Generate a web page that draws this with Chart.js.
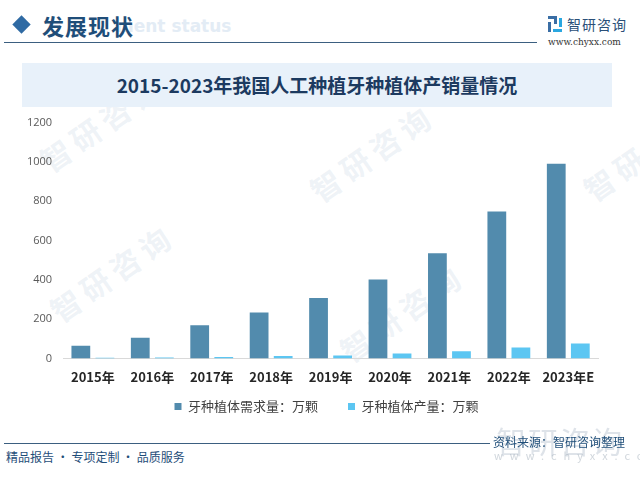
<!DOCTYPE html>
<html>
<head>
<meta charset="utf-8">
<script src="https://cdn.jsdelivr.net/npm/chart.js@4/dist/chart.umd.min.js"></script>
<style>
  body { margin: 0; background: #fff; }
  .page { position: relative; width: 640px; height: 478px; overflow: hidden; background: #fff; font-family: "Noto Sans CJK SC", "Noto Sans", sans-serif; }
  .diamond { position: absolute; left: 15px; top: 18px; width: 13px; height: 13px; background: #2f6aa3; transform: rotate(45deg); }
  .head { position: absolute; left: 42px; top: 9px; font-size: 22px; font-weight: bold; color: #1f4e79; letter-spacing: 1px; }
  .head-en { position: absolute; left: 116px; top: 16px; font-size: 17px; font-weight: bold; color: #e3ecf5; font-family: "DejaVu Sans", sans-serif; }
  .head-line { position: absolute; left: 4px; top: 42px; width: 533px; height: 1px; background: #3b5f80; }
  .logo-icon { position: absolute; left: 548px; top: 16px; width: 14px; height: 16px; }
  .logo-icon i { position: absolute; display: block; }
  .logo-name { position: absolute; left: 567px; top: 14px; font-size: 14px; color: #2a4f78; letter-spacing: 1px; }
  .logo-url { position: absolute; left: 548px; top: 37px; font-size: 9px; color: #333; font-family: "DejaVu Serif", serif; }
  .title-box { position: absolute; left: 22px; top: 63px; width: 590px; height: 44px; background: #e8f1fa; }
  .title { position: absolute; left: 0; top: 63px; width: 634px; text-align: center; line-height: 44px; font-size: 19px; font-weight: bold; color: #1c3a60; }
  .wm { position: absolute; color: rgba(200, 214, 228, 0.3); font-size: 30px; font-weight: bold; transform: rotate(-35deg); white-space: nowrap; letter-spacing: 6px; }
  #chartWrap { position: absolute; left: 0; top: 105px; width: 640px; height: 318px; }
  .foot-line { position: absolute; left: 4px; top: 443px; width: 486px; height: 1px; background: #3b5f80; }
  .foot-left { position: absolute; left: 6px; top: 448px; font-size: 12px; color: #1f4e79; }
  .foot-wm { position: absolute; left: 496px; top: 418px; font-size: 30px; color: rgba(190, 200, 212, 0.5); letter-spacing: 2px; }
  .foot-url { position: absolute; left: 494px; top: 447px; font-size: 11px; color: rgba(170, 180, 192, 0.55); letter-spacing: 7px; }
  .source { position: absolute; left: 493px; top: 433px; font-size: 12px; color: #1f4e79; }
</style>
</head>
<body>
<div class="page">
  <div class="wm" style="left:300px;top:130px;">智研咨询</div>
  <div class="wm" style="left:40px;top:250px;">智研咨询</div>
  <div class="wm" style="left:330px;top:290px;">智研咨询</div>
  <div class="wm" style="left:30px;top:100px;">智研咨询</div>
  <div class="wm" style="left:580px;top:150px;">智研</div>

  <div class="diamond"></div>
  <div class="head-en">ment status</div>
  <div class="head">发展现状</div>
  <div class="head-line"></div>
  <div class="logo-icon">
    <i style="left:0;top:0;width:9px;height:3px;background:#3a6ea5"></i>
    <i style="left:6px;top:0;width:3px;height:8px;background:#3a6ea5"></i>
    <i style="left:0;top:6px;width:3px;height:10px;background:#3a6ea5"></i>
    <i style="left:11px;top:2px;width:3px;height:9px;background:#2aa7e0"></i>
    <i style="left:5px;top:13px;width:9px;height:3px;background:#2aa7e0"></i>
  </div>
  <div class="logo-name">智研咨询</div>
  <div class="logo-url">www.chyxx.com</div>

  <div class="title-box"></div>
  <div class="title">2015-2023年我国人工种植牙种植体产销量情况</div>

  <div id="chartWrap"><canvas id="myChart"></canvas></div>

  <div class="foot-line"></div>
  <div class="foot-wm">智研咨询</div>
  <div class="foot-url">www.chyxx.com</div>
  <div class="source">资料来源：智研咨询整理</div>
  <div class="foot-left">精品报告 · 专项定制 · 品质服务</div>
</div>

<script>
const years = ["2015年", "2016年", "2017年", "2018年", "2019年", "2020年", "2021年", "2022年", "2023年E"];
const demandLabel = "牙种植体需求量：万颗";
const outputLabel = "牙种植体产量：万颗";
const demandValues = [65, 105, 169, 234, 307, 401, 535, 748, 991];
const outputValues = [3, 4, 7, 12, 15, 25, 37, 56, 76];
const yTicks = [0, 200, 400, 600, 800, 1000, 1200];

const darkBlue = "#528bad";
const lightBlue = "#5cc6f2";

const ctx = document.getElementById("myChart").getContext("2d");

const myChart = new Chart(ctx, {
  type: "bar",
  data: {
    labels: years,
    datasets: [
      { label: demandLabel, data: demandValues, backgroundColor: darkBlue, borderWidth: 0 },
      { label: outputLabel, data: outputValues, backgroundColor: lightBlue, borderWidth: 0 }
    ]
  },
  options: {
    responsive: true,
    maintainAspectRatio: false,
    animation: false,
    categoryPercentage: 0.81,
    barPercentage: 0.78,
    layout: { padding: { left: 16, right: 3, top: 0, bottom: 0 } },
    plugins: {
      legend: {
        position: "bottom",
        labels: {
          boxWidth: 7,
          boxHeight: 7,
          padding: 4,
          color: "#404040",
          font: { family: "'Noto Sans CJK SC', sans-serif", size: 13 },
          // extra gap between the two items, like the original
          generateLabels: (chart) => {
            const items = Chart.defaults.plugins.legend.labels.generateLabels(chart);
            items[0].text = items[0].text + "\u3000\u3000";
            return items;
          }
        }
      },
      tooltip: { enabled: false }
    },
    scales: {
      x: {
        grid: { display: false, drawTicks: false },
        border: { display: true, color: "#d9d9d9" },
        ticks: {
          padding: 11,
          color: "#262626",
          font: { family: "'Noto Sans CJK SC', sans-serif", size: 13, weight: "bold" }
        }
      },
      y: {
        min: 0,
        max: 1200,
        afterBuildTicks: (axis) => { axis.ticks = yTicks.map((v) => ({ value: v })); },
        grid: { display: false, drawTicks: false },
        border: { display: false },
        ticks: {
          padding: 11,
          color: "#595959",
          font: { family: "'Open Sans', sans-serif", size: 11 },
          callback: (value) => String(value)
        }
      },
      // empty right axis, only keeps the plot off the right edge
      yRight: {
        position: "right",
        min: 0,
        max: 1200,
        grid: { display: false, drawTicks: false },
        border: { display: false },
        ticks: { display: false },
        afterFit: (axis) => { axis.width = 39; }
      }
    }
  }
});
</script>
</body>
</html>
